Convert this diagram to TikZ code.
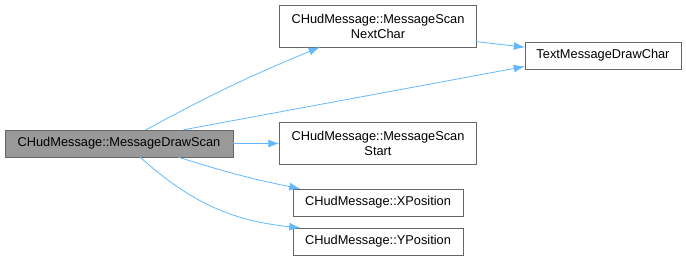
\documentclass[tikz,border=0pt]{standalone}
\usepackage{fontspec}
\setmainfont{Liberation Sans}
\usepackage{xcolor}
\usetikzlibrary{arrows.meta}

\definecolor{callblue}{RGB}{99,184,255}
\definecolor{boxline}{RGB}{102,102,102}
\definecolor{rootfill}{RGB}{153,153,153}

\begin{document}
\begin{tikzpicture}[x=1pt,y=-1pt,
	fn/.style={draw=boxline,fill=white,rectangle,inner sep=0pt,align=center,
		font=\fontsize{12.8}{15}\selectfont},
	call/.style={-{Latex[length=11pt,width=8pt]},draw=callblue,line width=0.8pt}]
	\useasboundingbox (0,0) rectangle (686,272);
	% caller on the left
	\node[fn,fill=rootfill,minimum width=228pt,minimum height=27pt] (scan) at (119,143.5) {CHudMessage::MessageDrawScan};
	% callees
	\node[fn,minimum width=197pt,minimum height=42pt] (next) at (378,26) {CHudMessage::MessageScan\\NextChar};
	\node[fn,minimum width=156pt,minimum height=27pt] (drawchar) at (603,55.5) {TextMessageDrawChar};
	\node[fn,minimum width=197pt,minimum height=42pt] (start) at (378,143.5) {CHudMessage::MessageScan\\Start};
	\node[fn,minimum width=170pt,minimum height=27pt] (xpos) at (378,202.5) {CHudMessage::XPosition};
	\node[fn,minimum width=170pt,minimum height=27pt] (ypos) at (378,241.5) {CHudMessage::YPosition};
	% calls
	\draw[call] (scan.27) to[bend left=3] (next.200);
	\draw[call] (scan.12.5) -- (drawchar.188);
	\draw[call] (next.351) -- (drawchar.174);
	\draw[call] (scan.east) -- (start.west);
	\draw[call] (scan.347.5) to[bend right=3] (xpos.170);
	\draw[call] (scan.327) to[bend right=18] (ypos.170);
\end{tikzpicture}
\end{document}
